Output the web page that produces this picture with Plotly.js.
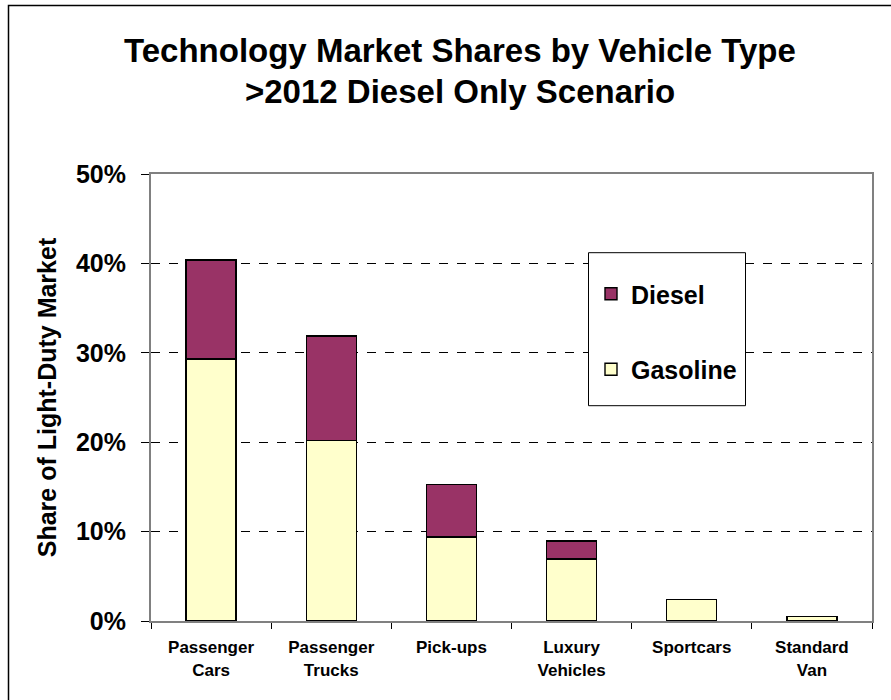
<!DOCTYPE html>
<html>
<head>
<meta charset="utf-8">
<script src="https://cdn.plot.ly/plotly-3.0.1.min.js"></script>
<style>html,body{margin:0;padding:0;background:#fff;}#chart{width:891px;height:700px;}</style>
</head>
<body>
<div id="chart"></div>
<script>
const categories = ["Passenger<br>Cars", "Passenger<br>Trucks", "Pick-ups", "Luxury<br>Vehicles", "Sportcars", "Standard<br>Van"];
const gasoline = [29.3, 20.2, 9.4, 6.95, 2.4, 0.5];
const diesel = [11.1, 11.7, 5.9, 2.0, 0, 0];
const yTicks = [0, 10, 20, 30, 40, 50];
const titleLine1 = "Technology Market Shares by Vehicle Type";
const titleLine2 = "&gt;2012 Diesel Only Scenario";

const FONT = "'Liberation Sans', Arial, sans-serif";

const traces = [
  {
    type: "bar", name: "Gasoline", x: categories, y: gasoline,
    marker: {color: "#FFFFCC", line: {color: "#000", width: 1.4}},
    legendgroup: "g", legendrank: 2, hoverinfo: "x+y+name"
  },
  {
    type: "bar", name: "Diesel", x: categories, y: diesel,
    marker: {color: "#993366", line: {color: "#000", width: 1.4}},
    legendgroup: "d", legendrank: 1, hoverinfo: "x+y+name"
  }
];

const L = 151, R = 872, T = 174, B = 621, W = 891, H = 700;
const pw = R - L, ph = B - T;
const px = v => (v - L) / pw;
const py = v => (B - v) / ph;

const layout = {
  width: W, height: H,
  margin: {l: L, r: W - R, t: T, b: H - B, pad: 0},
  paper_bgcolor: "#fff", plot_bgcolor: "#fff",
  font: {family: FONT, color: "#000"},
  barmode: "stack",
  bargap: 0.584,
  showlegend: true,
  legend: {
    x: px(591), y: py(271), xanchor: "left", yanchor: "top",
    bgcolor: "rgba(0,0,0,0)", borderwidth: 0,
    font: {family: FONT, size: 25, color: "#000", weight: "bold"},
    traceorder: "grouped", tracegroupgap: 40
  },
  xaxis: {
    type: "category",
    showline: true, linecolor: "#808080", linewidth: 2, mirror: true,
    ticks: "outside", ticklen: 6, tickcolor: "#000", tickwidth: 1,
    tickson: "boundaries",
    tickfont: {family: FONT, size: 17, color: "#000", weight: "bold"},
    ticklabelstandoff: 10,
    showgrid: false, zeroline: false, fixedrange: true
  },
  yaxis: {
    range: [0, 50],
    tickvals: yTicks, ticktext: yTicks.map(v => v + "%"),
    showline: true, linecolor: "#808080", linewidth: 2, mirror: true,
    ticks: "outside", ticklen: 8, tickcolor: "#000", tickwidth: 1,
    tickfont: {family: FONT, size: 25, color: "#000", weight: "bold"},
    ticklabelstandoff: 10,
    showgrid: true, gridcolor: "#000", gridwidth: 1, griddash: "dash",
    zeroline: false, fixedrange: true,
    title: {text: "Share of Light-Duty Market", standoff: 12,
            font: {family: FONT, size: 25, color: "#000", weight: "bold"}}
  },
  annotations: [
    {text: titleLine1, xref: "paper", yref: "paper", x: px(460), y: py(50),
     xanchor: "center", yanchor: "middle", showarrow: false,
     font: {family: FONT, size: 33, color: "#000", weight: "bold"}},
    {text: titleLine2, xref: "paper", yref: "paper", x: px(460), y: py(91),
     xanchor: "center", yanchor: "middle", showarrow: false,
     font: {family: FONT, size: 33, color: "#000", weight: "bold"}}
  ],
  shapes: [
    {type: "rect", xref: "paper", yref: "paper",
     x0: px(8.5), x1: px(900), y0: py(710), y1: py(5.5),
     line: {color: "#000", width: 1.5}, fillcolor: "rgba(0,0,0,0)", layer: "above"},
    {type: "rect", xref: "paper", yref: "paper",
     x0: px(588.5), x1: px(745.5), y0: py(405.7), y1: py(252.7),
     line: {color: "#000", width: 1}, fillcolor: "#fff", layer: "above"}
  ]
};

Plotly.newPlot("chart", traces, layout, {displayModeBar: false, staticPlot: true});
</script>
</body>
</html>
